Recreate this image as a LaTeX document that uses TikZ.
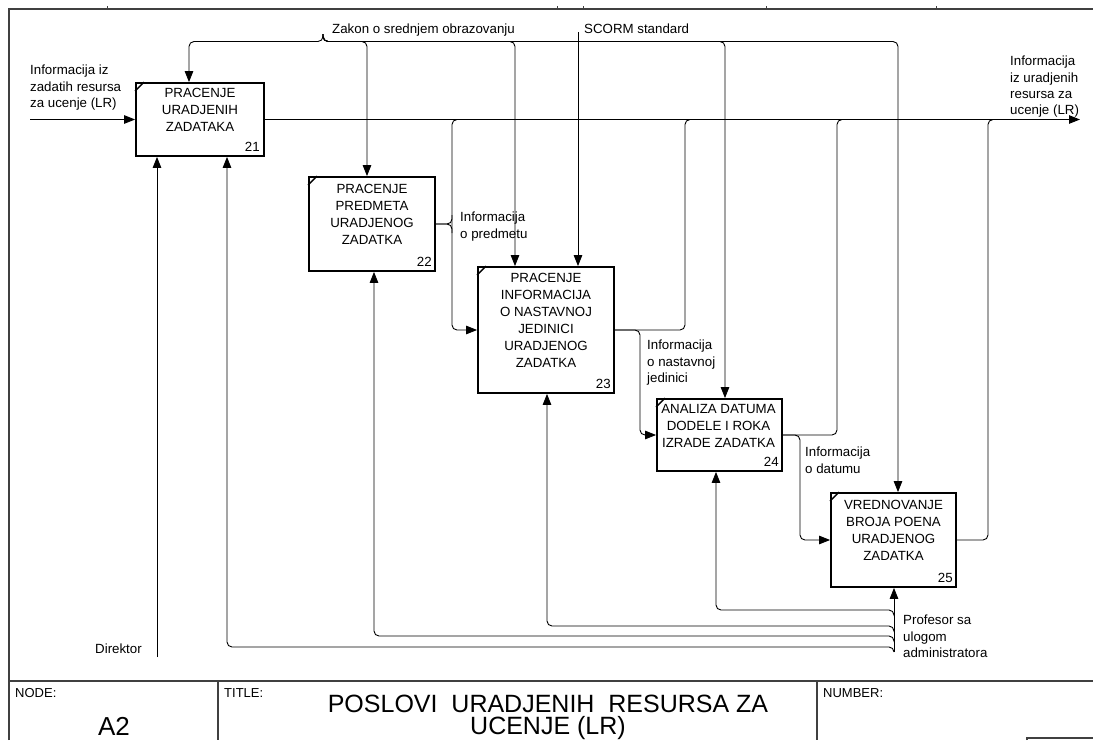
\documentclass[tikz,border=0pt]{standalone}
\usepackage{fontspec}
\setmainfont{Liberation Sans}
\usetikzlibrary{arrows.meta}
\begin{document}
\begin{tikzpicture}[x=1pt,y=-1pt,
  frame/.style={line width=1.2pt, black!75},
  fbox/.style={draw, line width=1.8pt, inner sep=0pt},
  ftext/.style={align=center, inner sep=0pt, font=\fontsize{13.3}{17}\selectfont},
  fnum/.style={inner sep=0pt, anchor=south east, font=\fontsize{13.3}{16}\selectfont},
  lbl/.style={align=left, inner sep=0pt, anchor=north west, font=\fontsize{13.3}{16.3}\selectfont},
  small/.style={inner sep=0pt, anchor=north west, font=\fontsize{13}{15}\selectfont},
  conn/.style={line width=0.9pt, rounded corners=5pt},
  arr/.style={conn, -{Triangle[length=11pt,width=8.5pt]}}]
\useasboundingbox (0,0) rectangle (1093,740);

% sheet frame and title block
\draw[frame] (9,740) -- (9,9) -- (1093,9);
\draw[frame] (9,681) -- (1093,681);
\draw[frame] (218,681) -- (218,740);
\draw[frame] (817,681) -- (817,740);
\draw[frame] (1027,740) -- (1027,738) -- (1093,738);
\foreach \tx in {107,557,583,766,936}
  \draw[line width=0.8pt, black!75] (\tx,6) -- (\tx,9);

\node[small] (nodel) at (15,688) {NODE:};
\node[small] (titlel) at (224,688) {TITLE:};
\node[small] (numl) at (823,688) {NUMBER:};
\node[inner sep=0pt, anchor=base, font=\fontsize{26}{26}\selectfont] (a2) at (114,735.5) {A2};
\node[inner sep=0pt, anchor=north, align=center, font=\fontsize{25}{22.5}\selectfont] (ttl) at (548,694.5)
  {POSLOVI\ \ URADJENIH\ \ RESURSA ZA\\UCENJE (LR)};

% activity boxes
\node[fbox, minimum width=128pt, minimum height=73pt] (b21) at (200,119.5) {};
\node[fbox, minimum width=126pt, minimum height=94pt] (b22) at (372,224) {};
\node[fbox, minimum width=136pt, minimum height=126pt] (b23) at (546,330) {};
\node[fbox, minimum width=125pt, minimum height=72pt] (b24) at (719.5,435) {};
\node[fbox, minimum width=125pt, minimum height=94pt] (b25) at (893.5,540) {};

\foreach \b in {b21,b22,b23,b24,b25}
  \draw[line width=1.4pt] ([yshift=-9pt]\b.north west) -- ([xshift=9pt]\b.north west);

\node[ftext] (t21) at ([yshift=9.5pt]b21.center) {PRACENJE\\URADJENIH\\ZADATAKA};
\node[ftext] (t22) at ([yshift=9.5pt]b22.center) {PRACENJE\\PREDMETA\\URADJENOG\\ZADATKA};
\node[ftext] (t23) at ([yshift=9.5pt]b23.center) {PRACENJE\\INFORMACIJA\\O NASTAVNOJ\\JEDINICI\\URADJENOG\\ZADATKA};
\node[ftext] (t24) at ([yshift=9.5pt,xshift=-1pt]b24.center) {ANALIZA DATUMA\\DODELE I ROKA\\IZRADE ZADATKA};
\node[ftext] (t25) at ([yshift=9.5pt]b25.center) {VREDNOVANJE\\BROJA POENA\\URADJENOG\\ZADATKA};

\node[fnum] (n21) at ([xshift=-5pt,yshift=5pt]b21.south east) {21};
\node[fnum] (n22) at ([xshift=-4pt,yshift=5pt]b22.south east) {22};
\node[fnum] (n23) at ([xshift=-4pt,yshift=5pt]b23.south east) {23};
\node[fnum] (n24) at ([xshift=-4pt,yshift=5pt]b24.south east) {24};
\node[fnum] (n25) at ([xshift=-4pt,yshift=5pt]b25.south east) {25};

% arrow labels
\node[lbl] (lin) at (30,65) {Informacija iz\\zadatih resursa\\za ucenje (LR)};
\node[lbl] (lout) at (1010,56) {Informacija\\iz uradjenih\\resursa za\\ucenje (LR)};
\node[lbl] (lzak) at (332,24) {Zakon o srednjem obrazovanju};
\node[lbl] (lscorm) at (584,24) {SCORM standard};
\node[lbl] (lpred) at (460,212) {Informacija\\o predmetu};
\node[lbl] (lnast) at (647,340) {Informacija\\o nastavnoj\\jedinici};
\node[lbl] (ldat) at (805,447) {Informacija\\o datumu};
\node[lbl] (lprof) at (903,615) {Profesor sa\\ulogom\\administratora};
\node[lbl] (ldir) at (95,644) {Direktor};

% controls
\coordinate (zk) at (323,34);
\draw[arr] (zk) |- (189,41.5) -- (189,0 |- b21.north);
\draw[arr] (zk) |- (367,41.5) -- (367,0 |- b22.north);
\draw[arr] (zk) |- (515,41.5) -- (515,0 |- b23.north);
\draw[arr] (zk) |- (725,41.5) -- (725,0 |- b24.north);
\draw[arr] (zk) |- (898,41.5) -- (898,0 |- b25.north);
\coordinate (sc) at (578,32);
\draw[arr] (sc) -- (sc |- b23.north);

% inputs and outputs
\coordinate (in0) at (30,119.5);
\coordinate (out0) at (1080,119.5);
\draw[arr] (in0) -- (b21.west);
\draw[arr] (b21.east) -- (out0);
\draw[arr] (458,0 |- b21.east) -- (452,0 |- b21.east) -- (452,0 |- b23.west) -- (b23.west);
\draw[conn] (b22.east) -- (452,0 |- b22.east) -- ++(0,-9);
\draw[conn] (b22.east) -- (452,0 |- b22.east) -- ++(0,9);
\draw[arr] (b23.east) -- (640,0 |- b23.east) -- (640,0 |- b24.west) -- (b24.west);
\draw[conn] (b23.east) -- (685,0 |- b23.east) -- (685,0 |- b21.east) -- (691,0 |- b21.east);
\draw[arr] (b24.east) -- (800,0 |- b24.east) -- (800,0 |- b25.west) -- (b25.west);
\draw[conn] (b24.east) -- (837,0 |- b24.east) -- (837,0 |- b21.east) -- (843,0 |- b21.east);
\draw[conn] (b25.east) -- (988,0 |- b25.east) -- (988,0 |- b21.east) -- (994,0 |- b21.east);

% mechanisms
\coordinate (dir) at (157,657);
\draw[arr] (dir) -- (dir |- b21.south);
\coordinate (pr) at (894,652);
\draw[arr] (pr) -- (pr |- b25.south);
\draw[arr] (894,616) |- (716,610) -- (716,0 |- b24.south);
\draw[arr] (894,632) |- (547,626) -- (547,0 |- b23.south);
\draw[arr] (894,642) |- (374,636) -- (374,0 |- b22.south);
\draw[arr] (pr) |- (227,647) -- (227,0 |- b21.south);
\end{tikzpicture}
\end{document}
